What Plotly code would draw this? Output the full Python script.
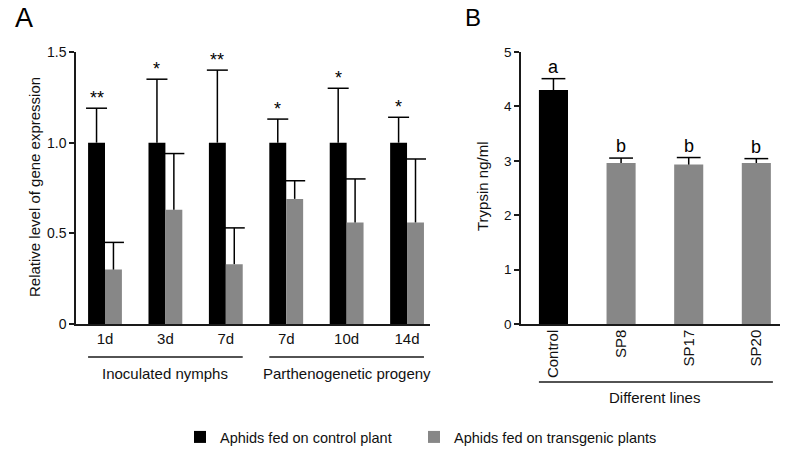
import plotly.graph_objects as go

# ---------------- data ----------------
# Panel A
time_labels_A = ['1d', '3d', '7d', '7d', '10d', '14d']
group_labels_A = ['Inoculated nymphs', 'Parthenogenetic progeny']
control_A = [1.0, 1.0, 1.0, 1.0, 1.0, 1.0]
control_err_A = [0.19, 0.35, 0.40, 0.13, 0.30, 0.14]
transgenic_A = [0.30, 0.63, 0.33, 0.69, 0.56, 0.56]
transgenic_err_A = [0.15, 0.31, 0.20, 0.10, 0.24, 0.35]
signif_A = ['**', '*', '**', '*', '*', '*']

# Panel B
lines_B = ['Control', 'SP8', 'SP17', 'SP20']
trypsin_B = [4.30, 2.96, 2.93, 2.96]
trypsin_err_B = [0.21, 0.09, 0.13, 0.08]
letters_B = ['a', 'b', 'b', 'b']

series_names = ['Aphids fed on control plant', 'Aphids fed on transgenic plants']

# ---------------- styling ----------------
W, H = 787, 451
FONT = 'Liberation Sans, Arial, sans-serif'
BLACK = '#000000'
GREY = '#878787'
AXC = '#1a1a1a'
TXT = '#111111'
BW_A = 0.28   # bar width panel A (data units)
BW_B = 0.43   # bar width panel B

def px(x):
    return x / W

def py(y):
    return 1 - y / H

fig = go.Figure()

idx_A = list(range(len(time_labels_A)))
xc_ctrl = [i - BW_A / 2 for i in idx_A]
xc_trans = [i + BW_A / 2 for i in idx_A]

err_style = dict(type='data', symmetric=False, width=0, thickness=1.5, color=BLACK)

fig.add_trace(go.Bar(
    x=idx_A, y=control_A, offset=-BW_A, width=BW_A, name=series_names[0],
    marker=dict(color=BLACK, line=dict(width=0)), legend='legend',
    error_y=dict(array=control_err_A, arrayminus=[0] * len(idx_A), **err_style),
    xaxis='x', yaxis='y'))
fig.add_trace(go.Bar(
    x=idx_A, y=transgenic_A, offset=0, width=BW_A, name=series_names[1],
    marker=dict(color=GREY, line=dict(width=0)), legend='legend2',
    error_y=dict(array=transgenic_err_A, arrayminus=[0] * len(idx_A), **err_style),
    xaxis='x', yaxis='y'))

# caps for panel A
cap_x = xc_ctrl + xc_trans
cap_y = [v + e for v, e in zip(control_A, control_err_A)] + \
        [v + e for v, e in zip(transgenic_A, transgenic_err_A)]
fig.add_trace(go.Scatter(
    x=cap_x, y=cap_y, mode='markers', showlegend=False, hoverinfo='skip',
    marker=dict(symbol='line-ew', size=15, color=BLACK, line=dict(width=1.5, color=BLACK)),
    xaxis='x', yaxis='y'))

# Panel B
idx_B = list(range(len(lines_B)))
colors_B = [BLACK] + [GREY] * (len(lines_B) - 1)
fig.add_trace(go.Bar(
    x=idx_B, y=trypsin_B, width=BW_B, showlegend=False,
    marker=dict(color=colors_B, line=dict(width=0)),
    error_y=dict(array=trypsin_err_B, arrayminus=[0] * len(idx_B), **err_style),
    xaxis='x2', yaxis='y2'))
fig.add_trace(go.Scatter(
    x=idx_B, y=[v + e for v, e in zip(trypsin_B, trypsin_err_B)], mode='markers',
    showlegend=False, hoverinfo='skip',
    marker=dict(symbol='line-ew', size=17, color=BLACK, line=dict(width=1.5, color=BLACK)),
    xaxis='x2', yaxis='y2'))

# ---------------- axes ----------------
ydom = [py(324), py(52)]
xaxis_common = dict(showline=True, linecolor=AXC, linewidth=1.5, showgrid=False,
                    zeroline=False, automargin=False, ticks='',
                    tickfont=dict(family=FONT, size=15, color=TXT))
yaxis_common = dict(showline=True, linecolor=AXC, linewidth=1.5, showgrid=False,
                    zeroline=False, automargin=False, ticks='outside', ticklen=5,
                    tickwidth=1.5, tickcolor=AXC)

fig.update_layout(
    xaxis=dict(domain=[px(76), px(430)], range=[-0.48, 5.38], tickmode='array',
               tickvals=idx_A, ticktext=time_labels_A, anchor='y', **xaxis_common),
    yaxis=dict(domain=ydom, range=[0, 1.5], tickmode='array', tickvals=[0, 0.5, 1.0, 1.5],
               ticktext=['0', '0.5', '1.0', '1.5'], anchor='x',
               tickfont=dict(family=FONT, size=14, color=TXT), **yaxis_common),
    xaxis2=dict(domain=[px(521), px(780)], range=[-0.48, 3.35], tickmode='array',
                tickvals=idx_B, ticktext=lines_B, tickangle=-90, anchor='y2',
                ticklabelstandoff=-2, **xaxis_common),
    yaxis2=dict(domain=ydom, range=[0, 5], tickmode='array', tickvals=[0, 1, 2, 3, 4, 5],
                anchor='x2', tickfont=dict(family=FONT, size=13.5, color=TXT), **yaxis_common),
)

# ---------------- annotations ----------------
ann = []
for xi, v, e, s in zip(xc_ctrl, control_A, control_err_A, signif_A):
    ann.append(dict(x=xi, y=v + e, xref='x', yref='y', text=s, showarrow=False,
                    xanchor='center', yanchor='bottom', yshift=-2,
                    font=dict(family=FONT, size=18, color=BLACK)))
for xi, v, e, s in zip(idx_B, trypsin_B, trypsin_err_B, letters_B):
    ann.append(dict(x=xi, y=v + e, xref='x2', yref='y2', text=s, showarrow=False,
                    xanchor='center', yanchor='bottom', yshift=0,
                    font=dict(family=FONT, size=18, color=BLACK)))

def label(x, y, text, xref='paper', size=15, angle=0, color=TXT):
    return dict(x=x, y=y, xref=xref, yref='paper', text=text, showarrow=False,
                xanchor='center', yanchor='middle', textangle=angle,
                font=dict(family=FONT, size=size, color=color))

# group labels panel A
ann.append(label(1, py(373), group_labels_A[0], xref='x'))
ann.append(label(4, py(373), group_labels_A[1], xref='x'))
# panel B x title
ann.append(label(1.5, py(397), 'Different lines', xref='x2'))
# y titles
ann.append(label(px(35), py(187), 'Relative level of gene expression', angle=-90))
ann.append(label(px(483), py(187), 'Trypsin ng/ml', angle=-90))
# panel letters
ann.append(label(px(24), py(18), 'A', size=27, color=BLACK))
ann.append(label(px(473), py(17), 'B', size=24, color=BLACK))

shapes = [
    dict(type='line', xref='x', yref='paper', x0=0 - BW_A, x1=2 + BW_A, y0=py(357), y1=py(357),
         line=dict(color=AXC, width=1.5)),
    dict(type='line', xref='x', yref='paper', x0=3 - BW_A, x1=5 + BW_A, y0=py(357), y1=py(357),
         line=dict(color=AXC, width=1.5)),
    dict(type='line', xref='x2', yref='paper', x0=idx_B[0] - BW_B / 2, x1=idx_B[-1] + BW_B / 2 + 0.03,
         y0=py(382), y1=py(382), line=dict(color=AXC, width=1.5)),
]

legend_common = dict(orientation='h', xanchor='left', yanchor='middle',
                     font=dict(family=FONT, size=14.5, color=TXT), bgcolor='rgba(0,0,0,0)',
                     itemsizing='constant')

fig.update_layout(
    width=W, height=H, autosize=False,
    margin=dict(l=0, r=0, t=0, b=0, pad=0, autoexpand=False),
    paper_bgcolor='white', plot_bgcolor='white',
    barmode='overlay',
    font=dict(family=FONT, size=14, color=TXT),
    annotations=ann, shapes=shapes,
    legend=dict(x=px(180), y=py(437), **legend_common),
    legend2=dict(x=px(414), y=py(437), **legend_common),
    hovermode=False,
)

fig.write_html('out.html', post_script="document.body.style.margin='0';",
               config={'displayModeBar': False})
